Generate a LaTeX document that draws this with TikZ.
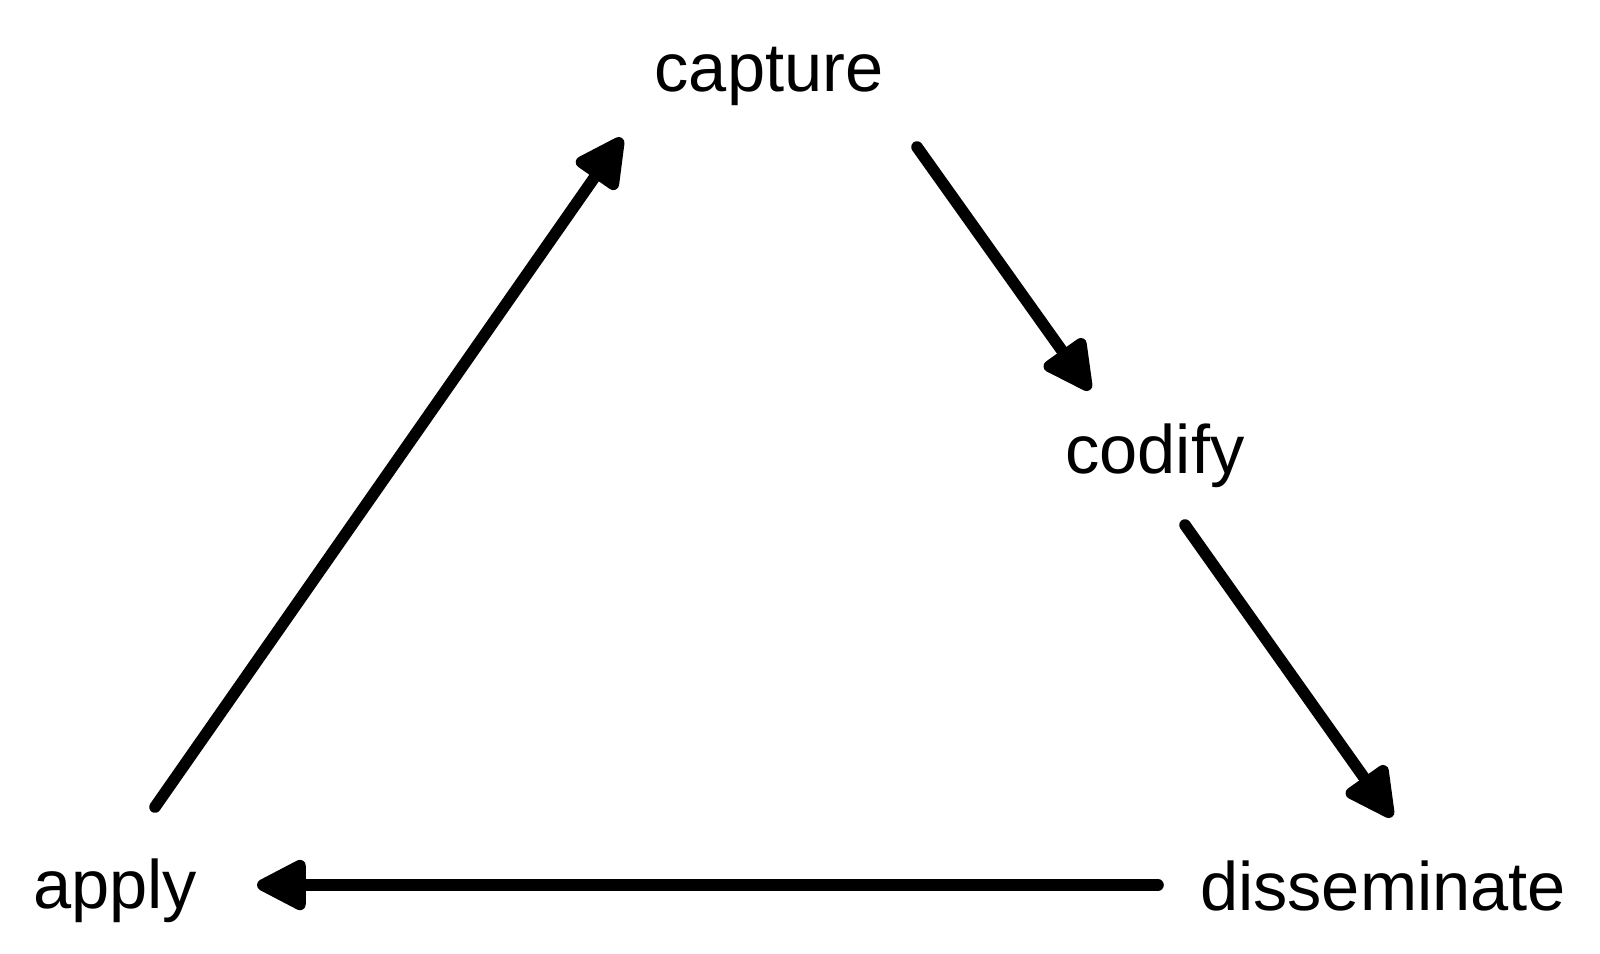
\documentclass[tikz,border=0pt]{standalone}
\usepackage{fontspec}
\setmainfont{Liberation Sans}
\usetikzlibrary{calc}
\usetikzlibrary{arrows.meta}

\begin{document}
\begin{tikzpicture}[x=0.01cm, y=-0.01cm,
  lbl/.style={anchor=base, inner sep=0, font=\fontsize{19.5}{23}\selectfont},
  arr/.style={black, line width=3.3pt, line cap=round, -{Triangle[length=16pt, width=15.5pt, round, fill=black]}}]
\useasboundingbox (0,0) rectangle (1600,953);
\node[lbl] (capture) at (769,91) {capture};
\node[lbl] (codify) at (1155,473) {codify};
\node[lbl] (disseminate) at (1383,910) {disseminate};
\node[lbl] (apply) at (115,908) {apply};
\draw[arr] ($(apply.base)+(40,-101)$) -- ($(capture.base)+(-147,47)$);
\draw[arr] ($(capture.base)+(148,56)$) -- ($(codify.base)+(-65,-83)$);
\draw[arr] ($(codify.base)+(30,52)$) -- ($(disseminate.base)+(9,-93)$);
\draw[arr] ($(disseminate.base)+(-225,-25)$) -- ($(apply.base)+(142,-23)$);
\end{tikzpicture}
\end{document}
